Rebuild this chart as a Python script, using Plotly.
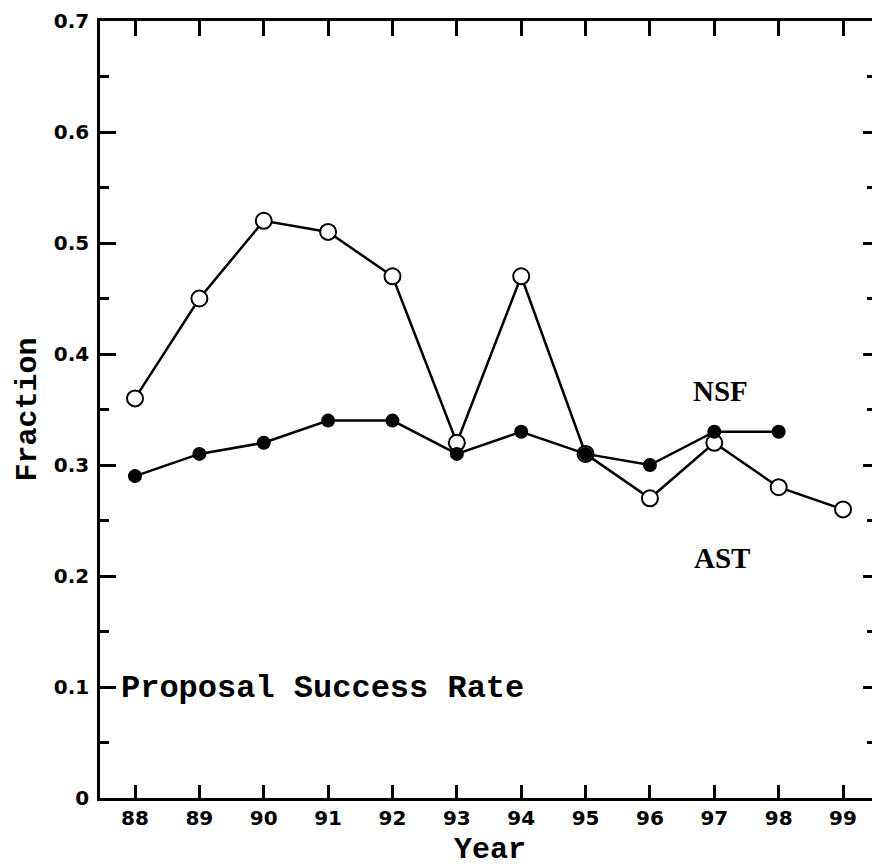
import plotly.graph_objects as go

years = [88, 89, 90, 91, 92, 93, 94, 95, 96, 97, 98, 99]
ast_rate = [0.36, 0.45, 0.52, 0.51, 0.47, 0.32, 0.47, 0.31, 0.27, 0.32, 0.28, 0.26]
nsf_years = [88, 89, 90, 91, 92, 93, 94, 95, 96, 97, 98]
nsf_rate = [0.29, 0.31, 0.32, 0.34, 0.34, 0.31, 0.33, 0.31, 0.30, 0.33, 0.33]
y_ticks = [0, 0.1, 0.2, 0.3, 0.4, 0.5, 0.6, 0.7]
y_ticklabels = ["0", "0.1", "0.2", "0.3", "0.4", "0.5", "0.6", "0.7"]

W, H = 872, 867
L, R, T, B = 100, 0, 21, 69
XR = [87.456, 99.45]
YR = [0, 0.7]

fig = go.Figure()
fig.add_trace(go.Scatter(
    x=years, y=ast_rate, mode="lines+markers", name="AST",
    line=dict(color="black", width=2.5),
    marker=dict(symbol="circle", size=16, color="white",
                line=dict(color="black", width=2)),
))
fig.add_trace(go.Scatter(
    x=nsf_years, y=nsf_rate, mode="lines+markers", name="NSF",
    line=dict(color="black", width=2.5),
    marker=dict(symbol="circle", size=14, color="black"),
))
# invisible trace carrying the mirrored tick axes (top and right)
fig.add_trace(go.Scatter(x=[years[0]], y=[0], xaxis="x2", yaxis="y2", mode="markers",
                         marker=dict(opacity=0), showlegend=False, hoverinfo="skip"))

tickfont = dict(family="DejaVu Sans", size=20, color="black", weight="bold")

fig.update_layout(
    width=W, height=H,
    margin=dict(l=L, r=R, t=T, b=B),
    paper_bgcolor="white", plot_bgcolor="white",
    showlegend=False,
    xaxis=dict(
        range=XR, tickmode="array", tickvals=years,
        ticktext=[str(y) for y in years],
        ticks="inside", ticklen=13, tickwidth=2.5, tickcolor="black",
        showline=True, linecolor="black", linewidth=2.5,
        mirror=True, showgrid=False, zeroline=False,
        tickfont=tickfont,
    ),
    xaxis2=dict(
        range=XR, overlaying="x", side="top", anchor="y2",
        tickmode="array", tickvals=years, showticklabels=False,
        ticks="inside", ticklen=15, tickwidth=2.5, tickcolor="black",
        showline=False, showgrid=False, zeroline=False,
    ),
    yaxis=dict(
        range=YR, tickmode="array", tickvals=y_ticks, ticktext=y_ticklabels,
        ticks="inside", ticklen=16, tickwidth=2.5, tickcolor="black",
        showline=True, linecolor="black", linewidth=2.5,
        mirror=False, showgrid=False, zeroline=False,
        tickfont=tickfont, ticklabelstandoff=4,
        minor=dict(ticks="inside", ticklen=9, tickwidth=2.5, tickcolor="black",
                   dtick=0.05, tick0=0, showgrid=False),
    ),
    yaxis2=dict(
        range=YR, overlaying="y", side="right", anchor="x2",
        tickmode="array", tickvals=y_ticks, showticklabels=False,
        ticks="inside", ticklen=9, tickwidth=2.5, tickcolor="black",
        showline=False, showgrid=False, zeroline=False,
        minor=dict(ticks="inside", ticklen=5, tickwidth=2.5, tickcolor="black",
                   dtick=0.05, tick0=0, showgrid=False),
    ),
)

title_font = dict(family="Liberation Mono", size=30, color="black", weight="bold")
fig.add_annotation(text="Fraction", xref="paper", yref="paper",
                   x=(27 - L) / (W - L - R), y=0.5, textangle=-90,
                   showarrow=False, font=title_font, xanchor="center", yanchor="middle")
fig.add_annotation(text="Year", xref="paper", yref="paper",
                   x=(490 - L) / (W - L - R), y=(H - B - 850) / (H - T - B),
                   showarrow=False, font=title_font, xanchor="center", yanchor="middle")
fig.add_annotation(text="Proposal Success Rate", xref="x", yref="y",
                   x=87.75, y=0.099, xanchor="left", yanchor="middle",
                   showarrow=False,
                   font=dict(family="Liberation Mono", size=32, color="black", weight="bold"))
fig.add_annotation(text="NSF", xref="x", yref="y", x=97.1, y=0.367,
                   showarrow=False, xanchor="center", yanchor="middle",
                   font=dict(family="Liberation Serif", size=29, color="black", weight="bold"))
fig.add_annotation(text="AST", xref="x", yref="y", x=97.12, y=0.216,
                   showarrow=False, xanchor="center", yanchor="middle",
                   font=dict(family="Liberation Serif", size=29, color="black", weight="bold"))

fig.write_html("out.html")
